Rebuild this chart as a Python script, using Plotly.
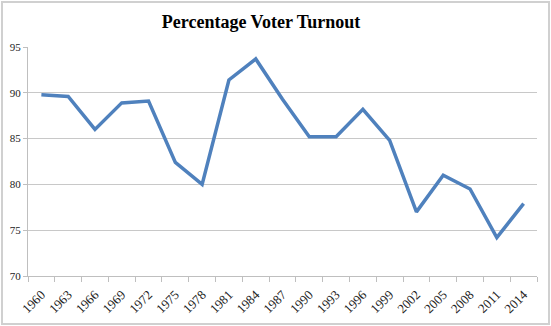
import plotly.graph_objects as go

years = ["1960", "1963", "1966", "1969", "1972", "1975", "1978", "1981", "1984", "1987",
         "1990", "1993", "1996", "1999", "2002", "2005", "2008", "2011", "2014"]
turnout = [89.8, 89.6, 86.0, 88.9, 89.1, 82.4, 80.0, 91.4, 93.7, 89.3,
           85.2, 85.2, 88.2, 84.8, 77.0, 81.0, 79.5, 74.2, 77.9]
y_ticks = [70, 75, 80, 85, 90, 95]

W, H = 551, 326
L, R, T, B = 28, 14, 47, 50
pw, ph = W - L - R, H - T - B

fig = go.Figure()
fig.add_trace(go.Scatter(x=years, y=turnout, mode="lines",
                         line=dict(color="#4F81BD", width=3.5), showlegend=False))

fig.update_layout(
    width=W, height=H,
    margin=dict(l=L, r=R, t=T, b=B),
    paper_bgcolor="white", plot_bgcolor="white",
    title=dict(text="<b>Percentage Voter Turnout</b>", x=261 / W, xref="container", xanchor="center",
               y=1 - 22 / H, yref="container", yanchor="middle",
               font=dict(family="Liberation Serif", size=18, color="black")),
    xaxis=dict(type="category", tickangle=-45, tickson="boundaries", ticks="outside", ticklen=5,
               tickcolor="#BFBFBF", showline=True, linecolor="#BFBFBF", linewidth=1,
               showgrid=False, ticklabelstandoff=5, automargin=False,
               tickfont=dict(family="Liberation Serif", size=13, color="#222222"),
               range=[-0.5, len(years) - 0.5]),
    yaxis=dict(range=[70, 95], tickvals=y_ticks, ticks="outside", ticklen=4, tickcolor="#BFBFBF",
               showline=True, linecolor="#BFBFBF", linewidth=1, showgrid=True,
               gridcolor="#C8C8C8", gridwidth=1.3, zeroline=False, automargin=False,
               tickfont=dict(family="Liberation Serif", size=11, color="#222222")),
    shapes=[dict(type="rect", xref="paper", yref="paper",
                 x0=(2 - L) / pw, x1=(549 - L) / pw,
                 y0=(H - B - 324) / ph, y1=(H - B - 2) / ph,
                 line=dict(color="#D0D0D0", width=2), fillcolor="rgba(0,0,0,0)", layer="below")],
)

fig.write_html("out.html")
